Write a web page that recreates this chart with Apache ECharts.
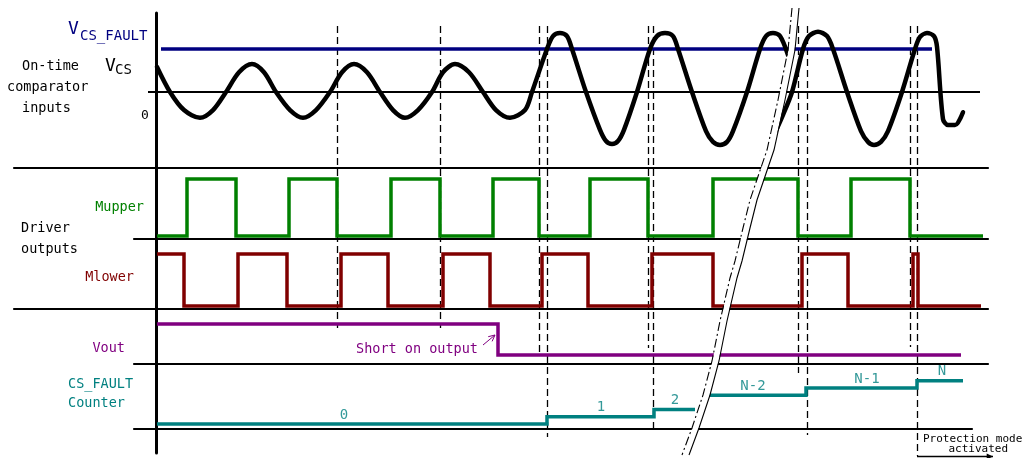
<!DOCTYPE html>
<html><head><meta charset="utf-8">
<script src="https://cdn.jsdelivr.net/npm/echarts@6/dist/echarts.min.js"></script>
<style>html,body{margin:0;padding:0;background:#fff}#c{width:1026px;height:458px}</style>
</head><body><div id="c"></div>
<script>
// ===== DATA (time in arbitrary units, levels per lane) =====
const vcsTimeA = [1,14,28,44,57,70,83,96,108,120,134,147,160,174,186,198,211,224,237,249,262,276,287,299,313,327,340,354,
  369,376,391,397,404,411,416,430,444,450,456,462,468,481,494,501,509,517,522,536,550,557,564,571,577,591,604,610,617,624,632];
const vcsValueA = [0.58,0,-0.42,-0.60,-0.42,0,0.46,0.65,0.46,0,-0.42,-0.60,-0.42,0,0.46,0.65,0.46,0,-0.42,-0.60,-0.42,0,0.46,0.65,0.46,0,-0.42,-0.60,
  -0.42,0,1.0,1.30,1.37,1.30,1.0,0,-0.88,-1.14,-1.21,-1.14,-0.88,0,1.0,1.30,1.37,1.30,1.0,0,-0.91,-1.16,-1.23,-1.16,-0.91,0,1.0,1.30,1.37,1.30,0.86];
const vcsTimeB = [617,627,636,647,653,662,671,677,691,705,712,718,725,732,746,759,764,771,778,781,787,792,799,807];
const vcsValueB = [-1.05,-0.53,0,1.0,1.30,1.40,1.30,1.0,0,-0.91,-1.16,-1.23,-1.16,-0.91,0,1.0,1.28,1.37,1.30,1.05,-0.63,-0.77,-0.77,-0.47];
const vcsFaultTimes = [5, 776];
const vcsFaultLevel = 1.0;
const vcsZeroTimes = [-8, 824];

const mupperTimes  = [1,31,80,133,181,235,284,337,383,434,492,557,642,695,754,827];
const mupperLevels = [0,1,0,1,0,1,0,1,0,1,0,1,0,1,0,0];
const mlowerTimes  = [1,28,82,131,185,232,287,334,386,432,496,557,646,692,757,762,825];
const mlowerLevels = [1,0,1,0,1,0,1,0,1,0,1,0,1,0,1,0,0];
const voutTimes  = [1,342,805];
const voutLevels = [1,0,0];

const counterTimesA  = [1,391,498,539];
const counterLevelsA = [0,1,2,2];
const counterTimesB  = [551,650,761,807];
const counterLevelsB = [4,5,6,6];
const counterLabels      = ['0','1','2','N-2','N-1','N'];
const counterLabelTimes  = [188,445,519,597,711,786];
const counterLabelLevels = [0,1,2,4,5,6];

const eventTimes = [181,284,383,391,492,497,642,651,754,761];

// ===== LAYOUT / STYLE =====
const FONT = '"DejaVu Sans Mono", monospace';
const NAVY='#000080', GREEN='#008000', DRED='#800000', PURPLE='#800080', TEAL='#008080';
const dashTop = 26;
const dashBottoms = [328,328,352,437,348,432,373,435,347,456];

const pairs = (xs, ys) => xs.map((x, i) => [x, ys[i]]);

const gridDefs = [
  {left:14,  right:38, top:13,  height:155, xr:[-142,832], yr:[-1.767,1.837], xLine:true},
  {left:134, right:38, top:168, height:71,  xr:[-22,832],  yr:[-0.053,1.193], xLine:true},
  {left:14,  right:38, top:239, height:70,  xr:[-142,832], yr:[-0.058,1.288], xLine:true},
  {left:134, right:38, top:309, height:55,  xr:[-22,832],  yr:[-0.29,1.484],  xLine:true},
  {left:134, right:54, top:364, height:65,  xr:[-22,816],  yr:[-0.694,8.333], xLine:true},
  {left:134, right:38, top:429, height:24,  xr:[-22,832],  yr:[0,1],          xLine:false}
];

const chart = echarts.init(document.getElementById('c'), null, {renderer:'canvas'});

const lineSeries = (grid, data, color, width, extra) => Object.assign({
  type:'line', xAxisIndex:grid, yAxisIndex:grid, data, showSymbol:false, symbol:'none',
  clip:false, animation:false,
  lineStyle:{color, width, join:'miter', cap:'butt'}
}, extra || {});

const option = {
  animation:false,
  backgroundColor:'#fff',
  grid: gridDefs.map(g => ({left:g.left, right:g.right, top:g.top, height:g.height, containLabel:false, outerBoundsMode:'none'})),
  xAxis: gridDefs.map((g, i) => ({
    type:'value', gridIndex:i, min:g.xr[0], max:g.xr[1], position:'bottom',
    axisLine:{show:g.xLine, onZero:false, lineStyle:{color:'#000', width:2.2}},
    axisTick:{show:false}, axisLabel:{show:false}, splitLine:{show:false}
  })),
  yAxis: gridDefs.map((g, i) => ({
    type:'value', gridIndex:i, min:g.yr[0], max:g.yr[1],
    axisLine:{show:true, onZero:true, lineStyle:{color:'#000', width:3}},
    axisTick:{show:false}, axisLabel:{show:false}, splitLine:{show:false}
  })),
  series: [
    lineSeries(0, vcsZeroTimes.map(t => [t, 0]), '#000', 2),
    lineSeries(0, vcsFaultTimes.map(t => [t, vcsFaultLevel]), NAVY, 3.5),
    lineSeries(0, pairs(vcsTimeA, vcsValueA), '#000', 4.5, {smooth:0.3, lineStyle:{color:'#000', width:4.5, cap:'round', join:'round'}}),
    lineSeries(0, pairs(vcsTimeB, vcsValueB), '#000', 4.5, {smooth:0.3, lineStyle:{color:'#000', width:4.5, cap:'round', join:'round'}}),
    lineSeries(1, pairs(mupperTimes, mupperLevels), GREEN, 3.5, {step:'end'}),
    lineSeries(2, pairs(mlowerTimes, mlowerLevels), DRED, 3.5, {step:'end'}),
    lineSeries(3, pairs(voutTimes, voutLevels), PURPLE, 3.5, {step:'end'}),
    lineSeries(4, pairs(counterTimesA, counterLevelsA), TEAL, 3.5, {step:'end'}),
    lineSeries(4, pairs(counterTimesB, counterLevelsB), TEAL, 3.5, {step:'end'}),
    {
      type:'scatter', xAxisIndex:4, yAxisIndex:4, symbolSize:0, animation:false, clip:false,
      data: counterLabels.map((n, i) => ({name:n, value:[counterLabelTimes[i], counterLabelLevels[i]]})),
      label:{show:true, position:'top', distance:2, formatter:'{b}', color:TEAL, fontFamily:FONT, fontSize:14}
    }
  ]
};
chart.setOption(option);

// ===== decorations (positions from axis scales where data-driven) =====
const tx = t => chart.convertToPixel({xAxisIndex:0}, t);
const graphics = [];
eventTimes.forEach((t, i) => {
  const x = Math.round(tx(t)) + 0.5;
  graphics.push({type:'line', z:3, silent:true,
    shape:{x1:x, y1:dashTop, x2:x, y2:dashBottoms[i]},
    style:{stroke:'#000', lineWidth:1.3, lineDash:[7,4]}});
});

// break symbol
const breakLeft = [[792,8],[788,50],[778,100],[767,150],[750,200],[743,228],[735,261],[730,278],[720,321],[712,361],[703,395],[692,428],[682,455]];
const shift = (pts, d) => pts.map(p => [p[0] + d, p[1]]);
graphics.push({type:'polyline', z:100, silent:true, shape:{points:shift(breakLeft, 3.5)}, style:{stroke:'#fff', lineWidth:6, fill:null}});
graphics.push({type:'polyline', z:101, silent:true, shape:{points:breakLeft}, style:{stroke:'#000', lineWidth:1.1, lineDash:[9,3,2,3], fill:null}});
graphics.push({type:'polyline', z:101, silent:true, shape:{points:shift(breakLeft, 7)}, style:{stroke:'#000', lineWidth:1.1, fill:null}});

// texts
const txt = (text, x, y, opts) => graphics.push({
  type:'text', z:10, silent:true, x, y,
  style:Object.assign({text, fill:'#000', font:'13.5px ' + FONT, textAlign:'left', textVerticalAlign:'middle'}, opts || {})
});
txt('V', 68, 29, {fill:NAVY, font:'18px ' + FONT});
txt('CS_FAULT', 80, 36, {fill:NAVY, font:'14px ' + FONT});
txt('On-time', 22, 66);
txt('comparator', 7, 87);
txt('inputs', 22, 108);
txt('V', 105, 66, {font:'18px ' + FONT});
txt('CS', 115, 70, {font:'14px ' + FONT});
txt('0', 141, 116, {font:'13px ' + FONT});
txt('Mupper', 144, 207, {fill:GREEN, textAlign:'right'});
txt('Driver', 21, 228);
txt('outputs', 21, 249);
txt('Mlower', 134, 277, {fill:DRED, textAlign:'right'});
txt('Vout', 125, 348, {fill:PURPLE, textAlign:'right'});
txt('CS_FAULT', 68, 384, {fill:TEAL});
txt('Counter', 68, 403, {fill:TEAL});
txt('Short on output', 356, 349, {fill:PURPLE});
txt('Protection mode', 923, 439, {font:'11px ' + FONT});
txt('activated', 1008, 449, {font:'11px ' + FONT, textAlign:'right'});

// arrow helper
function arrow(x1, y1, x2, y2, color, width, head, filled) {
  graphics.push({type:'line', z:10, silent:true, shape:{x1, y1, x2, y2}, style:{stroke:color, lineWidth:width}});
  const a = Math.atan2(y2 - y1, x2 - x1), s = 0.45;
  const p1 = [x2 - head * Math.cos(a - s), y2 - head * Math.sin(a - s)];
  const p2 = [x2 - head * Math.cos(a + s), y2 - head * Math.sin(a + s)];
  if (filled) graphics.push({type:'polygon', z:10, silent:true, shape:{points:[[x2,y2],p1,p2]}, style:{fill:color}});
  else graphics.push({type:'polyline', z:10, silent:true, shape:{points:[p1,[x2,y2],p2]}, style:{stroke:color, lineWidth:1, fill:null}});
}
arrow(483, 345, 495, 335, PURPLE, 1, 7, false);
arrow(tx(761), 456.5, 993, 456.5, '#000', 1.5, 7, true);

chart.setOption({graphic:{elements:graphics}});
</script></body></html>
